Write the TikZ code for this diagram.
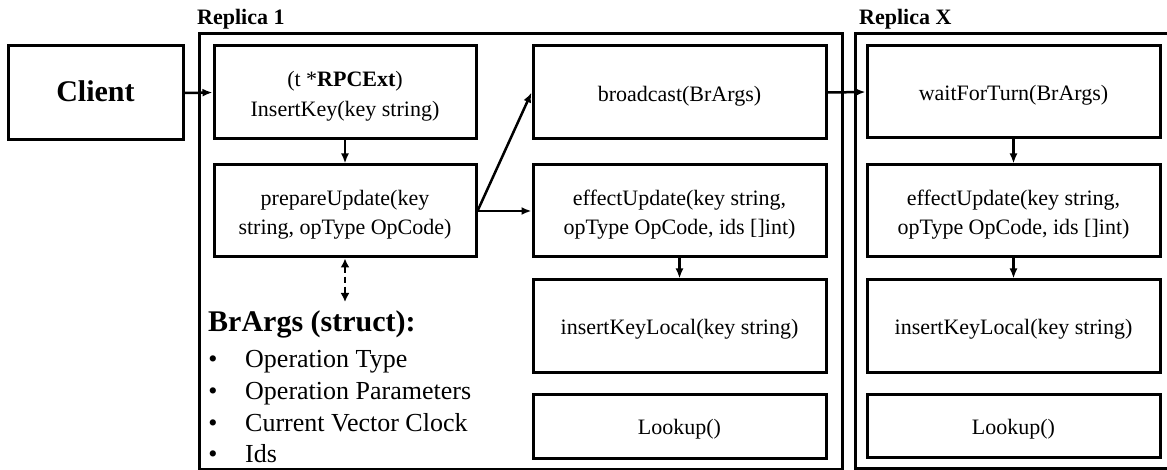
\documentclass[tikz,border=0pt]{standalone}
\usepackage{fontspec}
\setmainfont{Liberation Serif}
\usetikzlibrary{arrows.meta}
\tikzset{
  box/.style={draw=black, line width=3pt, inner sep=0pt,
    minimum width=293pt, minimum height=92pt},
  narrowbox/.style={box, minimum width=262pt},
  boxtext/.style={align=center, inner sep=0pt, font=\fontsize{22}{29.5}\selectfont},
  container/.style={draw=black, line width=3pt},
  arr/.style={line width=2.5pt, -{Latex[length=10pt,width=8pt]}},
  dasharr/.style={line width=2.5pt, dash pattern=on 6pt off 4pt,
    {Latex[length=9pt,width=9pt]}-{Latex[length=9pt,width=9pt]}},
  title/.style={font=\fontsize{22}{26}\selectfont\bfseries, anchor=base west, inner sep=0pt},
  itemtext/.style={font=\fontsize{26}{31}\selectfont, anchor=base west, inner sep=0pt},
  bul/.style={font=\fontsize{26}{31}\selectfont, anchor=base, inner sep=0pt}
}
\begin{document}
\begin{tikzpicture}[x=1pt,y=-1pt]
\useasboundingbox (0,0) rectangle (1167,470);
% containers
\node[container, minimum width=643pt, minimum height=435pt, inner sep=0pt] (r1) at (520.5,251.5) {};
\node[title] (r1lab) at (197,25) {Replica 1};
\coordinate (rxa) at (1172,34);
\coordinate (rxb) at (855,34);
\coordinate (rxc) at (855,468);
\coordinate (rxd) at (1172,468);
\draw[container] (rxa) -- (rxb) -- (rxc) -- (rxd);
\node[title] (rxlab) at (859,25) {Replica X};
% client
\node[draw=black, line width=3pt, minimum width=175pt, minimum height=94pt] (client) at (95.5,93) {};
\node[font=\fontsize{30}{34}\selectfont\bfseries, inner sep=0pt, anchor=base] (clientt) at (95.5,102) {Client};
% replica 1 boxes
\node[narrowbox, minimum height=93pt] (A) at (345,92.5) {};
\node[boxtext] (At) at (345,96) {(t *\textbf{RPCExt})\\InsertKey(key string)};
\node[narrowbox] (B) at (345,211) {};
\node[boxtext] (Bt) at (345,214.5) {prepareUpdate(key\\string, opType OpCode)};
\node[box, minimum height=93pt] (C) at (679.5,92.5) {};
\node[boxtext] (Ct) at (679.5,96) {broadcast(BrArgs)};
\node[box] (D) at (679.5,211) {};
\node[boxtext] (Dt) at (679.5,214.5) {effectUpdate(key string,\\opType OpCode, ids []int)};
\node[box] (E) at (679.5,326) {};
\node[boxtext] (Et) at (679.5,329.5) {insertKeyLocal(key string)};
\node[box, minimum height=64pt] (F) at (679.5,426) {};
\node[boxtext] (Ft) at (679.5,429.5) {Lookup()};
% replica X boxes
\node[box] (G) at (1013.5,92) {};
\node[boxtext] (Gt) at (1013.5,95.5) {waitForTurn(BrArgs)};
\node[box] (H) at (1013.5,211) {};
\node[boxtext] (Ht) at (1013.5,214.5) {effectUpdate(key string,\\opType OpCode, ids []int)};
\node[box] (I) at (1013.5,326) {};
\node[boxtext] (It) at (1013.5,329.5) {insertKeyLocal(key string)};
\node[box, minimum height=63pt] (J) at (1013.5,425.5) {};
\node[boxtext] (Jt) at (1013.5,429) {Lookup()};
% arrows
\draw[arr] (client.east) -- (A.west);
\draw[arr] (A.south) -- (B.north);
\draw[arr] (B.east) -- (C.west);
\draw[arr] (B.east) -- (D.west);
\draw[arr] (D.south) -- (E.north);
\draw[arr] (C.east) -- (G.west);
\draw[arr] (G.south) -- (H.north);
\draw[arr] (H.south) -- (I.north);
\coordinate (dend) at (345,302);
\draw[dasharr] (B.south) -- (dend);
% BrArgs struct
\node[font=\fontsize{30}{34}\selectfont\bfseries, anchor=base west, inner sep=0pt] (brargs) at (208,331) {BrArgs (struct):};
\node[bul] (b1) at (213,367) {•};
\node[itemtext] (t1) at (245,367) {Operation Type};
\node[bul] (b2) at (213,399) {•};
\node[itemtext] (t2) at (245,399) {Operation Parameters};
\node[bul] (b3) at (213,431) {•};
\node[itemtext] (t3) at (245,431) {Current Vector Clock};
\node[bul] (b4) at (213,462) {•};
\node[itemtext] (t4) at (245,462) {Ids};
\end{tikzpicture}
\end{document}
